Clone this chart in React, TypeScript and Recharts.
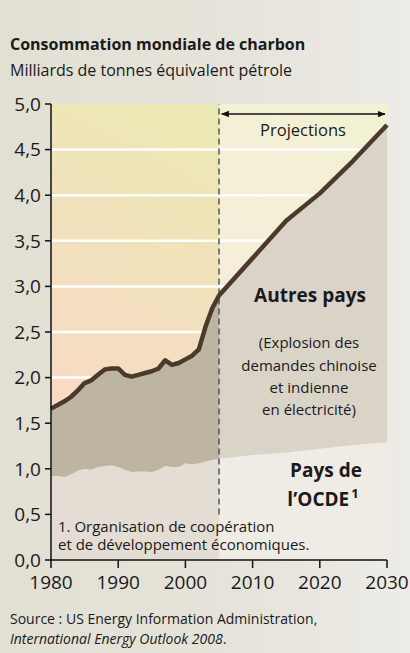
import { ComposedChart, Area, Line, XAxis, YAxis, CartesianGrid, ReferenceArea, ReferenceLine } from 'recharts';

const FONT = '"Open Sans", "Noto Sans", sans-serif';

const years = [
  1980, 1981, 1982, 1983, 1984, 1985, 1986, 1987, 1988, 1989, 1990, 1991, 1992,
  1993, 1994, 1995, 1996, 1997, 1998, 1999, 2000, 2001, 2002, 2003, 2004, 2005,
  2010, 2015, 2020, 2025, 2030,
];

// consommation mondiale totale
const totalValues = [
  1.66, 1.7, 1.74, 1.79, 1.86, 1.94, 1.97, 2.03, 2.09, 2.1, 2.1, 2.03, 2.01,
  2.03, 2.05, 2.07, 2.1, 2.19, 2.14, 2.16, 2.2, 2.24, 2.31, 2.56, 2.76, 2.9,
  3.31, 3.72, 4.02, 4.38, 4.77,
];

// pays de l'OCDE
const ocdeValues = [
  0.92, 0.92, 0.91, 0.94, 0.98, 1.0, 0.99, 1.02, 1.03, 1.04, 1.02, 0.99, 0.965,
  0.97, 0.97, 0.965, 0.99, 1.03, 1.02, 1.02, 1.06, 1.05, 1.06, 1.08, 1.1, 1.11,
  1.15, 1.18, 1.22, 1.26, 1.29,
];

const lastActual = 2005;
const yTicks = [0, 0.5, 1, 1.5, 2, 2.5, 3, 3.5, 4, 4.5, 5];
const gridValues = [0.5, 1, 1.5, 2, 2.5, 3, 3.5, 4, 4.5];
const xTicks = [1980, 1990, 2000, 2010, 2020, 2030];

const data = years.map((year, i) => ({
  year,
  total: totalValues[i],
  histTotal: year <= lastActual ? totalValues[i] : null,
  histOcde: year <= lastActual ? ocdeValues[i] : null,
  projTotal: year >= lastActual ? totalValues[i] : null,
  projOcde: year >= lastActual ? ocdeValues[i] : null,
}));

const fmt = (v: number) => v.toFixed(1).replace('.', ',');

const App = () => {
  return (
    <div
      style={{
        position: 'absolute',
        left: 0,
        top: 0,
        width: 410,
        height: 653,
        overflow: 'hidden',
        background: 'linear-gradient(90deg, #e2dfd3 0%, #e6e3da 60%, #edece7 100%)',
        fontFamily: FONT,
      }}
    >
      <svg width={0} height={0} style={{ position: 'absolute' }}>
        <defs>
          {/* fonds de la zone de tracé, en coordonnées de page */}
          <linearGradient id="gradHist" gradientUnits="userSpaceOnUse" x1="215" y1="104" x2="51" y2="420">
            <stop offset="0%" stopColor="#ebe9b2" />
            <stop offset="100%" stopColor="#f8d9c6" />
          </linearGradient>
          <linearGradient id="gradProj" gradientUnits="userSpaceOnUse" x1="387" y1="104" x2="219" y2="330">
            <stop offset="0%" stopColor="#f2f2d3" />
            <stop offset="100%" stopColor="#f6ecdb" />
          </linearGradient>
          <marker id="arrowHead" viewBox="0 0 10 10" refX="9" refY="5" markerWidth="8" markerHeight="8" orient="auto-start-reverse" markerUnits="userSpaceOnUse">
            <path d="M0,1 L10,5 L0,9 z" fill="#111" />
          </marker>
        </defs>
      </svg>

      <ComposedChart
        width={410}
        height={620}
        data={data}
        margin={{ top: 104, right: 23, bottom: 20, left: 0 }}
      >
        <ReferenceArea x1={1980} x2={lastActual} y1={0} y2={5} fill="url(#gradHist)" fillOpacity={1} stroke="none" zIndex={-200} />
        <ReferenceArea x1={lastActual} x2={2030} y1={0} y2={5} fill="url(#gradProj)" fillOpacity={1} stroke="none" zIndex={-200} />
        <CartesianGrid vertical={false} horizontalValues={gridValues} stroke="#ffffff" strokeWidth={2.5} />
        <XAxis
          type="number"
          dataKey="year"
          domain={[1980, 2030]}
          ticks={xTicks}
          interval={0}
          height={40}
          tickSize={8}
          tickMargin={8}
          axisLine={{ stroke: '#111', strokeWidth: 1.5 }}
          tickLine={{ stroke: '#111', strokeWidth: 1.5 }}
          tick={{ fontSize: 19, fill: '#1a1a1a', fontFamily: FONT }}
        />
        <YAxis
          type="number"
          domain={[0, 5]}
          ticks={yTicks}
          interval={0}
          width={51}
          tickSize={6}
          tickMargin={4}
          tickFormatter={fmt}
          axisLine={{ stroke: '#111', strokeWidth: 1.5 }}
          tickLine={{ stroke: '#111', strokeWidth: 1.5 }}
          tick={{ fontSize: 19, fill: '#1a1a1a', fontFamily: FONT }}
        />
        <Area dataKey="histTotal" type="linear" fill="#bdb4a1" fillOpacity={1} stroke="none" isAnimationActive={false} />
        <Area dataKey="histOcde" type="linear" fill="#e3ddd3" fillOpacity={1} stroke="none" isAnimationActive={false} />
        <Area dataKey="projTotal" type="linear" fill="#dad3c7" fillOpacity={1} stroke="none" isAnimationActive={false} />
        <Area dataKey="projOcde" type="linear" fill="#efebe5" fillOpacity={1} stroke="none" isAnimationActive={false} />
        <ReferenceLine
          segment={[{ x: lastActual, y: 0.5 }, { x: lastActual, y: 5 }]}
          stroke="#555"
          strokeWidth={1.5}
          strokeDasharray="6 4"
          zIndex={300}
        />
        <Line dataKey="total" type="linear" stroke="#4b3a2b" strokeWidth={4.5} strokeLinejoin="round" dot={false} activeDot={false} isAnimationActive={false} />
        <ReferenceLine
          segment={[{ x: 2005.4, y: 4.89 }, { x: 2029.7, y: 4.89 }]}
          stroke="#111"
          strokeWidth={1.5}
          markerStart="url(#arrowHead)"
          markerEnd="url(#arrowHead)"
          zIndex={500}
        />
      </ComposedChart>

      <svg width={410} height={653} style={{ position: 'absolute', left: 0, top: 0, pointerEvents: 'none' }} fontFamily={FONT} fill="#1a1a1a">
        <text x={10} y={50} fontSize={16} fontWeight={700}>Consommation mondiale de charbon</text>
        <text x={10} y={76} fontSize={16}>Milliards de tonnes équivalent pétrole</text>

        <text x={303} y={136} fontSize={16.5} textAnchor="middle">Projections</text>

        <text x={310} y={302} fontSize={19} fontWeight={700} textAnchor="middle">Autres pays</text>
        <text fontSize={15} textAnchor="middle">
          <tspan x={309} y={348}>(Explosion des</tspan>
          <tspan x={309} y={370.5}>demandes chinoise</tspan>
          <tspan x={309} y={393}>et indienne</tspan>
          <tspan x={309} y={415}>en électricité)</tspan>
        </text>

        <text x={326} y={477} fontSize={19} fontWeight={700} textAnchor="middle">Pays de</text>
        <text x={323} y={506} fontSize={19} fontWeight={700} textAnchor="middle">
          l’OCDE<tspan dy={-8} fontSize={13} dx={2}>1</tspan>
        </text>

        <text x={58} y={532} fontSize={15}>1. Organisation de coopération</text>
        <text x={58} y={550} fontSize={15}>et de développement économiques.</text>

        <text x={10} y={624} fontSize={14}>Source : US Energy Information Administration,</text>
        <text x={10} y={644} fontSize={14} fontStyle="italic">International Energy Outlook 2008<tspan fontStyle="normal">.</tspan></text>
      </svg>
    </div>
  );
};

export default App;
